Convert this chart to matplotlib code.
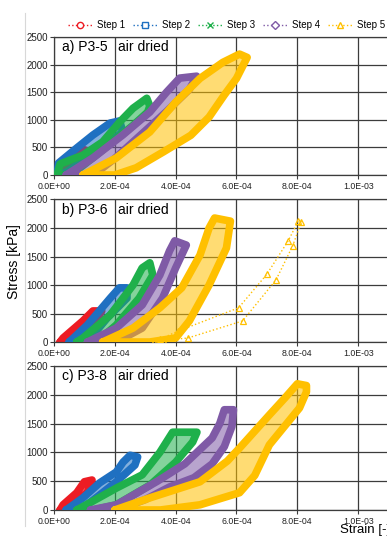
import matplotlib
matplotlib.use("Agg")
import matplotlib.pyplot as plt
import numpy as np
from matplotlib.lines import Line2D
from matplotlib.ticker import FuncFormatter

plt.rcParams['font.family'] = ['Liberation Sans', 'DejaVu Sans']

steps = ["Step 1", "Step 2", "Step 3", "Step 4", "Step 5"]
colors = ["#ed1c24", "#1f70c1", "#1fb04b", "#7f5aa6", "#ffc000"]
markers = ["o", "s", "x", "D", "^"]

# strain in 1e-4 units, stress in kPa; each list traces one loading/unloading loop
p35_strain = [
    [0.3, 0.55, 0.85, 1.25, 1.0, 0.55, 0.3],
    [0.1, 0.15, 0.75, 1.28, 1.84, 2.16, 2.26, 1.74, 1.08, 0.43, 0.1],
    [0.1, 0.2, 0.95, 1.6, 2.16, 2.6, 3.05, 3.15, 3.08, 2.6, 1.93, 1.28, 0.55],
    [0.4, 1.28, 2.26, 3.15, 3.7, 4.13, 4.69, 4.45, 3.7, 2.8, 2.0, 1.3],
    [0.95, 2.05, 3.15, 4.0, 4.8, 5.55, 6.1, 6.35, 6.0, 5.6, 5.1, 4.5, 3.6, 2.7, 2.0],
]
p35_stress = [
    [100, 330, 490, 400, 320, 200, 100],
    [0, 217, 490, 724, 940, 980, 780, 543, 310, 55, 0],
    [0, 200, 360, 600, 960, 1210, 1390, 1250, 1140, 900, 600, 310, 0],
    [0, 310, 724, 1140, 1500, 1755, 1790, 1550, 1150, 700, 300, 0],
    [0, 310, 780, 1320, 1750, 2040, 2190, 2130, 1750, 1450, 1050, 720, 420, 130, 0],
]

p36_strain = [
    [0.2, 0.3, 0.95, 1.28, 1.57, 1.5, 0.85, 0.5],
    [0.5, 1.1, 1.85, 2.15, 2.4, 2.4, 1.75, 1.2, 0.75],
    [0.75, 0.95, 1.85, 2.6, 2.9, 3.15, 3.25, 2.8, 2.05, 1.4],
    [1.1, 2.05, 2.9, 3.48, 3.8, 3.97, 4.35, 4.0, 3.57, 2.9, 2.05],
    [1.6, 2.6, 3.48, 4.2, 4.8, 5.1, 5.28, 5.8, 5.67, 5.1, 4.45, 4.0, 3.15],
]
p36_stress = [
    [0, 70, 370, 545, 545, 475, 120, 0],
    [0, 300, 770, 950, 950, 770, 420, 70, 0],
    [0, 70, 475, 1000, 1300, 1390, 1175, 770, 300, 0],
    [0, 245, 650, 1175, 1600, 1775, 1700, 1300, 770, 245, 0],
    [0, 245, 600, 950, 1525, 2000, 2175, 2120, 1650, 1000, 370, 70, 0],
]
# separate sparse step 5 cycle of P3-6
p36_extra_strain = [3.3, 3.5, 4.07, 6.07, 7.0, 7.7, 8.03, 8.13, 7.85, 7.3, 6.2, 4.4, 3.6]
p36_extra_stress = [0, 50, 190, 600, 1190, 1775, 2120, 2110, 1690, 1090, 370, 70, 30]

p38_strain = [
    [0.2, 0.3, 0.75, 1.0, 1.25, 1.1, 0.75, 0.4],
    [0.4, 0.95, 1.5, 2.05, 2.27, 2.5, 2.75, 2.66, 2.05, 1.5, 0.95, 0.6],
    [0.75, 2.05, 2.9, 3.48, 3.9, 4.7, 4.56, 4.0, 3.15, 2.05, 1.3],
    [1.2, 2.05, 3.4, 4.3, 4.8, 5.2, 5.45, 5.6, 5.9, 5.85, 5.6, 5.2, 4.6, 3.8, 3.0, 2.05],
    [2.0, 3.15, 4.8, 5.7, 6.1, 7.08, 7.6, 8.0, 8.3, 8.3, 8.07, 7.08, 6.6, 6.1, 4.8, 3.5],
]
p38_stress = [
    [0, 90, 300, 490, 520, 310, 140, 0],
    [0, 210, 470, 660, 830, 950, 920, 780, 490, 260, 35, 0],
    [0, 380, 610, 1000, 1350, 1350, 1180, 830, 430, 90, 0],
    [0, 90, 500, 800, 1050, 1250, 1500, 1740, 1740, 1450, 1100, 800, 560, 400, 180, 0],
    [0, 210, 490, 850, 1075, 1650, 1950, 2190, 2160, 2050, 1770, 1130, 600, 300, 90, 0],
]

panels = [("a) P3-5", p35_strain, p35_stress),
          ("b) P3-6", p36_strain, p36_stress),
          ("c) P3-8", p38_strain, p38_stress)]

fig = plt.figure(figsize=(3.87, 5.37), dpi=100)
boxes = [[0.1395, 0.6741, 0.8646, 0.2570],
         [0.1395, 0.3631, 0.8646, 0.2654],
         [0.1395, 0.0503, 0.8646, 0.2682]]

for box, (name, strain, stress) in zip(boxes, panels):
    ax = fig.add_axes(box)
    for k in range(5):
        x = np.array(strain[k] + strain[k][:1]) * 1e-4
        y = np.array(stress[k] + stress[k][:1])
        ax.fill(x, y, color=colors[k], alpha=0.55, lw=0, zorder=2 + k)
        ax.plot(x, y, color=colors[k], lw=5.5, solid_joinstyle="round",
                solid_capstyle="round", zorder=2 + k)
    if name.startswith("b"):
        ax.plot(np.array(p36_extra_strain) * 1e-4, p36_extra_stress, ls=":",
                color=colors[4], lw=1.0, marker="^", ms=4.5, mfc="none",
                mec=colors[4], mew=0.9, zorder=8)
    ax.set_xlim(0, 1.1e-3)
    ax.set_ylim(0, 2500)
    ax.set_xticks(np.arange(0, 1.1e-3, 2e-4))
    ax.set_yticks(np.arange(0, 2501, 500))
    ax.xaxis.set_major_formatter(FuncFormatter(lambda v, p: "%.1E" % v))
    ax.grid(True, color="#3c3c3c", lw=0.9)
    ax.set_axisbelow(True)
    for sp in ax.spines.values():
        sp.set_color("#3c3c3c")
        sp.set_linewidth(0.9)
    ax.tick_params(axis="x", labelsize=6.3, length=3, width=0.8, pad=2,
                   colors="#3c3c3c", labelcolor="#222222")
    ax.tick_params(axis="y", labelsize=7, length=3, width=0.8, pad=1.5,
                   colors="#3c3c3c", labelcolor="#222222")
    ax.text(0.25e-4, 2320, name, fontsize=10, va="center", ha="left", zorder=10)
    ax.text(2.12e-4, 2320, "air dried", fontsize=10, va="center", ha="left", zorder=10)

handles = [Line2D([], [], color=c, ls=":", lw=1, marker=m, ms=4.5, mfc="white",
                  mec=c, mew=1) for c, m in zip(colors, markers)]
fig.legend(handles, steps, loc="center", bbox_to_anchor=(0.585, 0.953), ncol=5,
           frameon=False, fontsize=7, handlelength=2.5, handletextpad=0.5,
           columnspacing=0.8, borderaxespad=0)

fig.text(0.035, 0.512, "Stress [kPa]", rotation=90, fontsize=10,
         va="center", ha="center")
fig.text(0.878, 0.001, "Strain [-]", fontsize=9.5, va="bottom", ha="left")
fig.add_artist(Line2D([25 / 387, 25 / 387], [0.02, 0.975], color="#d8d8d8", lw=0.8))

fig.savefig("out.png", dpi=100)
